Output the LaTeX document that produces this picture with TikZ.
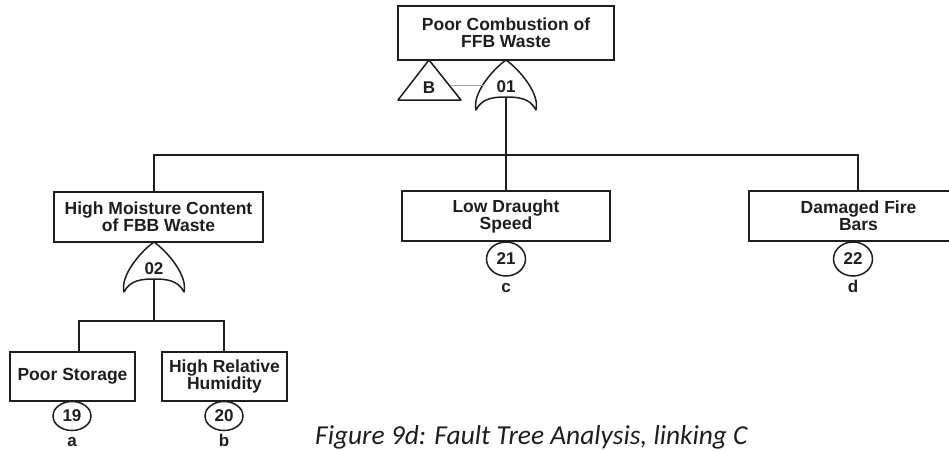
\documentclass[tikz,border=0pt]{standalone}
\usepackage{fontspec}
\setmainfont{Liberation Sans}
\newfontfamily\capfont{Carlito}
\usetikzlibrary{shapes.geometric}
\definecolor{ink}{HTML}{1E1E1E}
\tikzset{
  x=1pt, y=-1pt,
  box/.style={draw=ink, line width=1.5pt, fill=white, align=center, inner sep=0pt,
    text=ink, font=\bfseries\fontsize{17.5}{17}\selectfont},
  conn/.style={draw=ink, line width=1.5pt},
  thinconn/.style={draw=gray!70, line width=0.8pt},
  gateline/.style={draw=ink, line width=1.5pt, line join=round, fill=white},
  gatelabel/.style={text=ink, inner sep=0pt, font=\bfseries\fontsize{17}{17}\selectfont},
  evsmall/.style={draw=ink, line width=1.5pt, ellipse, inner sep=0pt, text=ink,
    minimum width=38, minimum height=29, font=\bfseries\fontsize{17}{17}\selectfont},
  evbig/.style={evsmall, minimum width=39, minimum height=34},
  leaf/.style={text=ink, inner sep=0pt, anchor=base, font=\bfseries\fontsize{17}{17}\selectfont},
  caption/.style={text=ink, inner sep=0pt, anchor=base west, font=\capfont\itshape\fontsize{27.4}{27.4}\selectfont},
  orgate/.pic={
    \draw[gateline] (0,0) .. controls (-14,10) and (-34,34) .. (-30,50)
       .. controls (-24,38) and (-12,37) .. (0,37)
       .. controls (12,37) and (24,38) .. (30,50)
       .. controls (34,34) and (14,10) .. (0,0) -- cycle;
    \coordinate (-bot) at (0,37);
    \node[gatelabel] (-lbl) at (0,27) {#1};
  }
}
\begin{document}
\begin{tikzpicture}
\useasboundingbox (0,0) rectangle (949,450);
\clip (0,0) rectangle (949,450);

% boxes
\node[box, minimum width=216, minimum height=54] (top) at (506,33) {Poor Combustion of\\FFB Waste};
\node[box, minimum width=209, minimum height=50] (hm) at (158.5,217) {High Moisture Content\\of FBB Waste};
\node[box, minimum width=208, minimum height=50] (ld) at (506,216) {Low Draught\\Speed};
\node[box, minimum width=219, minimum height=50] (df) at (858.5,216) {Damaged Fire\\Bars};
\node[box, minimum width=125, minimum height=49] (ps) at (72.5,376.5) {Poor Storage};
\node[box, minimum width=125, minimum height=49] (hr) at (224.5,376.5) {High Relative\\Humidity};

% transfer triangle B
\coordinate (tB) at (429,60);
\draw[gateline] (tB) -- (461,100) -- (398,100) -- cycle;
\node[gatelabel] (Blbl) at (429,88) {B};

% OR gates
\pic (g1) at (506,60) {orgate=01};
\pic (g2) at (154,242) {orgate=02};

% thin link B -- gate 01
\coordinate (lkA) at (449.5,85);
\coordinate (lkB) at (483,85);
\draw[thinconn] (lkA) -- (lkB);

% connectors level 1
\coordinate (bar1) at (506,155);
\coordinate (hmin) at (154,192);
\coordinate (dfin) at (858,191);
\draw[conn] (g1-bot) -- (bar1);
\draw[conn] (hmin) |- (bar1) -| (dfin);
\draw[conn] (bar1) -- (ld.north);

% connectors level 2
\coordinate (bar2) at (154,321);
\coordinate (psin) at (79,352);
\coordinate (hrin) at (224,352);
\draw[conn] (g2-bot) -- (bar2);
\draw[conn] (psin) |- (bar2) -| (hrin);

% basic events
\node[evsmall] (e19) at (72,416) {19};
\node[evsmall] (e20) at (224,416) {20};
\node[evbig] (e21) at (506,259) {21};
\node[evbig] (e22) at (853,259) {22};
\node[leaf] (la) at (72,446) {a};
\node[leaf] (lb) at (224,446) {b};
\node[leaf] (lc) at (506,292.5) {c};
\node[leaf] (ld2) at (853,292.5) {d};

% caption
\node[caption] (cap) at (315,444) {Figure 9d: Fault Tree Analysis, linking C};
\end{tikzpicture}
\end{document}
